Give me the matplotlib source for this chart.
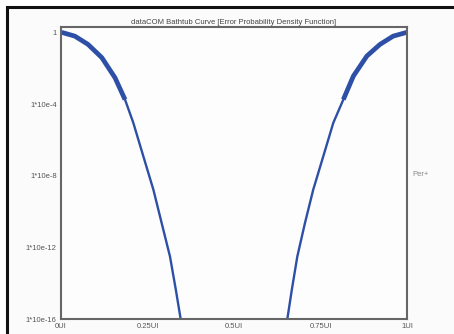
import matplotlib
matplotlib.use("Agg")
import matplotlib.pyplot as plt
from matplotlib.patches import Rectangle
import numpy as np

# Left tail (UI position, log10 of error probability)
left_x = [0.002, 0.040, 0.078, 0.118, 0.156, 0.185, 0.209, 0.238, 0.267, 0.291, 0.315, 0.332, 0.346]
left_log = [0.0, -0.21, -0.67, -1.41, -2.53, -3.75, -5.05, -6.92, -8.78, -10.65, -12.51, -14.38, -16.02]
# Right tail
right_x = [0.999, 0.960, 0.922, 0.884, 0.845, 0.816, 0.787, 0.758, 0.729, 0.705, 0.683, 0.667, 0.654]
right_log = [0.0, -0.21, -0.67, -1.32, -2.44, -3.75, -5.05, -6.92, -8.78, -10.65, -12.51, -14.38, -16.02]
measured_points = 6  # first points are drawn thick (measured region)

xticks = [0, 0.25, 0.5, 0.75, 1.0]
xtick_labels = ["0UI", "0.25UI", "0.5UI", "0.75UI", "1UI"]
yticks = [1, 1e-4, 1e-8, 1e-12, 1e-16]
ytick_labels = ["1", "1*10e-4", "1*10e-8", "1*10e-12", "1*10e-16"]
title = "dataCOM Bathtub Curve [Error Probability Density Function]"

plt.rcParams["font.family"] = ["Liberation Sans", "DejaVu Sans"]

W, H = 454, 334
fig = plt.figure(figsize=(W / 100, H / 100), dpi=100)
fig.patch.set_facecolor("white")
frame = Rectangle((7 / W, -0.2), 1.5, (H - 7) / H + 0.2,
                  transform=fig.transFigure, facecolor="#fbfbfb",
                  edgecolor="#111111", linewidth=2.2, zorder=-10)
fig.patches.append(frame)

ax = fig.add_axes([61 / W, 1 - 319 / H, 346 / W, 292 / H])
ax.set_zorder(1)
ax.set_facecolor("#fdfdfd")
color = "#2d4fa6"

lx = np.array(left_x); ly = 10.0 ** np.array(left_log)
rx = np.array(right_x); ry = 10.0 ** np.array(right_log)
ax.plot(lx, ly, color=color, lw=1.7, solid_capstyle="butt", solid_joinstyle="round")
ax.plot(rx, ry, color=color, lw=1.7, solid_capstyle="butt", solid_joinstyle="round")
ax.plot(lx[:measured_points], ly[:measured_points], color=color, lw=3.4,
        solid_capstyle="butt", solid_joinstyle="round")
ax.plot(rx[:measured_points], ry[:measured_points], color=color, lw=3.4,
        solid_capstyle="butt", solid_joinstyle="round")

ax.set_yscale("log")
ax.set_xlim(0, 1)
ax.set_ylim(1e-16, 10 ** 0.3)
ax.set_xticks(xticks)
ax.set_xticklabels(xtick_labels)
ax.set_yticks(yticks)
ax.set_yticklabels(ytick_labels)
ax.minorticks_off()
ax.tick_params(axis="both", length=0, labelsize=5.5, labelcolor="#555555", pad=3)
for s in ax.spines.values():
    s.set_color("#666666")
    s.set_linewidth(1.5)

fig.text((61 + 407) / 2 / W, 1 - 22 / H, title, ha="center", va="center",
         fontsize=5.5, color="#444444")
fig.text(412 / W, 1 - 174 / H, "Per+", ha="left", va="center",
         fontsize=5.5, color="#888888")

fig.savefig("out.png", dpi=100, facecolor=fig.get_facecolor())
